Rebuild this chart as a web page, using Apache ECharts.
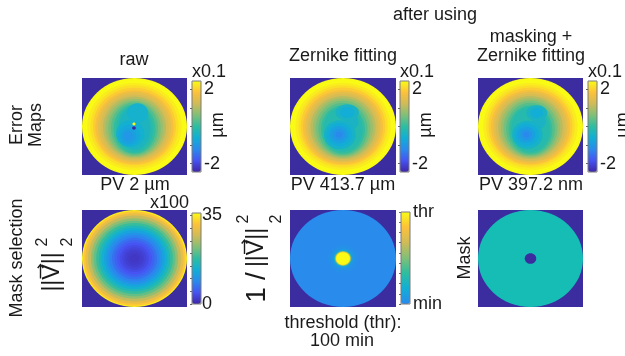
<!DOCTYPE html>
<html>
<head>
<meta charset="utf-8">
<script src="https://cdn.jsdelivr.net/npm/echarts@6/dist/echarts.min.js"></script>
<style>
html, body { margin: 0; padding: 0; background: #fff; }
#c { width: 625px; height: 356px; }
</style>
</head>
<body>
<div id="c"></div>
<script>
// Parula-style colour ramps
const parula = ['#3e26a8', '#4653f2', '#2a8aed', '#11aed6', '#2dbda0', '#80bf78', '#cfbb58', '#fdc13a', '#f9fb15'];
const parulaUpper = ['#2a8aed', '#11aed6', '#2dbda0', '#80bf78', '#cfbb58', '#fdc13a', '#f9fb15'];
const maskColors = ['#3b2ca0', '#16bdb4'];
const outsideColor = '#3b2ca0';

// Filled level sets, outermost first: [value, radiusX, radiusY, centreX, centreY]
// (radii and centres in normalised pupil units, -1..1)
const rawLevels = [
  [2.45, 1.0, 1.0, 0, 0],
  [2.3, 0.9, 0.9, 0, 0],
  [2.15, 0.84, 0.85, 0, 0],
  [1.95, 0.79, 0.8, 0, 0],
  [1.75, 0.745, 0.76, 0, -0.01],
  [1.5, 0.7, 0.72, 0, -0.01],
  [1.3, 0.65, 0.68, 0, -0.02],
  [1.05, 0.6, 0.64, 0, -0.02],
  [0.8, 0.55, 0.6, 0, -0.03],
  [0.55, 0.5, 0.57, 0, -0.04],
  [0.3, 0.45, 0.54, 0, -0.04],
  [0.05, 0.4, 0.51, 0, -0.05],
  [-0.15, 0.35, 0.48, 0, -0.05],
  [-0.35, 0.3, 0.44, 0, -0.04],
  [-0.5, 0.2, 0.2, 0.06, 0.28],
  [-0.55, 0.27, 0.28, -0.08, -0.15],
  [-0.7, 0.21, 0.22, -0.1, -0.18],
  [-0.85, 0.15, 0.16, -0.11, -0.2],
  [-1.0, 0.09, 0.1, -0.12, -0.2],
  [2.45, 0.03, 0.03, -0.01, 0.05],
  [-2.45, 0.035, 0.035, -0.01, -0.03]
];

const zernikeLevels = [
  [2.45, 1.0, 1.0, 0, 0],
  [2.3, 0.9, 0.9, 0, 0],
  [2.15, 0.845, 0.85, 0, 0],
  [1.95, 0.8, 0.805, 0, 0],
  [1.75, 0.755, 0.765, 0, -0.01],
  [1.5, 0.71, 0.725, 0, -0.01],
  [1.3, 0.665, 0.69, 0, -0.02],
  [1.05, 0.615, 0.65, 0, -0.02],
  [0.8, 0.565, 0.61, 0, -0.03],
  [0.55, 0.515, 0.575, 0, -0.04],
  [0.3, 0.465, 0.54, 0, -0.05],
  [0.05, 0.415, 0.5, 0, -0.06],
  [-0.15, 0.37, 0.46, 0, -0.06],
  [-0.4, 0.22, 0.17, 0.08, 0.29],
  [-0.4, 0.14, 0.16, 0.15, 0.1],
  [-0.45, 0.3, 0.3, -0.06, -0.17],
  [-0.6, 0.14, 0.11, 0.08, 0.29],
  [-0.65, 0.24, 0.24, -0.07, -0.17],
  [-0.85, 0.18, 0.18, -0.075, -0.17],
  [-1.05, 0.12, 0.12, -0.075, -0.17],
  [-1.25, 0.06, 0.06, -0.075, -0.17]
];

const maskedLevels = [
  [2.45, 1.0, 1.0, 0, 0],
  [2.3, 0.9, 0.9, 0, 0],
  [2.15, 0.845, 0.85, 0, 0],
  [1.95, 0.8, 0.805, 0, 0],
  [1.75, 0.755, 0.765, 0, -0.01],
  [1.5, 0.71, 0.725, 0, -0.01],
  [1.3, 0.665, 0.69, 0, -0.02],
  [1.05, 0.615, 0.65, 0, -0.02],
  [0.8, 0.565, 0.61, 0, -0.03],
  [0.55, 0.515, 0.575, 0, -0.04],
  [0.3, 0.465, 0.54, 0, -0.05],
  [0.05, 0.415, 0.5, 0, -0.06],
  [-0.15, 0.37, 0.46, 0, -0.06],
  [-0.4, 0.2, 0.16, 0.12, 0.28],
  [-0.4, 0.13, 0.15, 0.16, 0.1],
  [-0.45, 0.29, 0.29, -0.06, -0.17],
  [-0.6, 0.12, 0.1, 0.12, 0.28],
  [-0.65, 0.23, 0.23, -0.07, -0.17],
  [-0.85, 0.17, 0.17, -0.08, -0.17],
  [-1.05, 0.11, 0.11, -0.08, -0.17],
  [-1.25, 0.055, 0.055, -0.08, -0.17]
];

const gradLevels = [
  [35, 1.0, 1.0, 0, 0],
  [32, 0.975, 0.975, 0, 0],
  [29.5, 0.935, 0.935, 0, 0],
  [26.5, 0.885, 0.885, 0, 0],
  [23.5, 0.83, 0.83, 0, 0],
  [21, 0.78, 0.78, 0, 0],
  [18.5, 0.73, 0.73, 0, 0],
  [16, 0.68, 0.68, 0, 0],
  [14, 0.63, 0.63, 0, 0],
  [12, 0.58, 0.58, 0, 0],
  [10, 0.53, 0.53, 0, 0],
  [8.5, 0.48, 0.48, 0, 0],
  [7, 0.43, 0.43, 0, 0],
  [5.7, 0.38, 0.38, 0, 0],
  [4.6, 0.33, 0.33, 0, 0],
  [3.7, 0.28, 0.28, 0, 0],
  [3, 0.23, 0.23, 0, 0],
  [2.4, 0.18, 0.18, 0, 0],
  [2, 0.13, 0.13, 0, 0],
  [1.7, 0.08, 0.08, 0, 0]
];

const invLevels = [
  [1.5, 1.0, 1.0, 0, 0],
  [3, 0.3, 0.3, 0, 0],
  [5, 0.24, 0.24, 0, 0],
  [9, 0.2, 0.2, 0, 0],
  [20, 0.17, 0.17, 0, 0],
  [45, 0.155, 0.155, 0, 0],
  [75, 0.142, 0.142, 0, 0],
  [100, 0.13, 0.13, 0, 0]
];

const maskLevels = [
  [1, 1.0, 1.0, 0, 0],
  [0, 0.11, 0.11, 0, 0]
];

// Colour-bar ranges, tick labels and tick marks
const errRange = [-2.45, 2.45];
const errTickLabels = [-2, 2];
const errTickMarks = [-2, -1, 0, 1, 2];
const gradRange = [0, 36];
const gradTickLabels = [0, 35];
const gradTickMarks = [0, 5, 10, 15, 20, 25, 30, 35];
const invRange = [1, 100];
const invTickLabels = [1, 100];
const invTickNames = ['min', 'thr'];
const invTickMarks = [1, 12, 23, 34, 45, 56, 67, 78, 89, 100];

const FONT = '"Liberation Sans", Arial, sans-serif';
const INK = '#1a1a1a';

// Layout (pixels)
const panelBoxes = [
  [82, 78, 105, 97], [290, 78, 106, 97], [478, 78, 105, 97],
  [82, 210, 105, 97], [290, 210, 106, 97], [478, 210, 105, 97]
];
const barBoxes = [
  [192, 81, 9, 91], [400, 81, 9, 91], [588, 81, 9, 91],
  [192, 213, 9, 91], [401, 212, 9, 92]
];

const panelLevels = [rawLevels, zernikeLevels, maskedLevels, gradLevels, invLevels, maskLevels];

const grid = [], xAxis = [], yAxis = [], series = [];

panelBoxes.forEach((b, i) => {
  grid.push({ left: b[0], top: b[1], width: b[2], height: b[3], show: true,
    backgroundColor: outsideColor, borderWidth: 0 });
  xAxis.push({ gridIndex: i, type: 'value', min: -1, max: 1, show: false });
  yAxis.push({ gridIndex: i, type: 'value', min: -1, max: 1, show: false });
  series.push({
    type: 'custom', xAxisIndex: i, yAxisIndex: i, silent: true, animation: false,
    data: panelLevels[i].map(l => [l[3], l[4], l[1], l[2], l[0]]),
    renderItem: function (params, api) {
      const c = api.coord([api.value(0), api.value(1)]);
      const s = api.size([api.value(2), api.value(3)]);
      return {
        type: 'ellipse',
        shape: { cx: c[0], cy: c[1], rx: s[0], ry: s[1] },
        style: { fill: api.visual('color') }
      };
    }
  });
});

function barAxis(gi, range, labels, marks, fmt, margin) {
  return {
    gridIndex: gi, type: 'value', min: range[0], max: range[1], position: 'right', z: 10,
    axisLine: { show: false }, splitLine: { show: false },
    axisTick: { show: true, inside: true, length: 2, lineStyle: { color: '#666', width: 1 }, customValues: marks },
    axisLabel: { show: true, customValues: labels, formatter: fmt, margin: margin,
      color: INK, fontSize: 18, fontFamily: FONT }
  };
}

const barSpecs = [
  [errRange, errTickLabels, errTickMarks, v => String(v), 3],
  [errRange, errTickLabels, errTickMarks, v => String(v), 3],
  [errRange, errTickLabels, errTickMarks, v => String(v), 3],
  [gradRange, gradTickLabels, gradTickMarks, v => String(v), 1],
  [invRange, invTickLabels, invTickMarks, v => invTickNames[invTickLabels.indexOf(v)], 3]
];

barBoxes.forEach((b, k) => {
  const gi = panelBoxes.length + k;
  grid.push({ left: b[0], top: b[1], width: b[2], height: b[3], show: true, z: 10,
    backgroundColor: 'transparent', borderColor: '#7a7a7a', borderWidth: 1 });
  xAxis.push({ gridIndex: gi, type: 'value', min: 0, max: 1, show: false });
  const s = barSpecs[k];
  yAxis.push(barAxis(gi, s[0], s[1], s[2], s[3], s[4]));
});

function colourBar(si, range, colors, box) {
  return {
    type: 'continuous', seriesIndex: si, dimension: 4, min: range[0], max: range[1],
    inRange: { color: colors }, show: !!box, orient: 'vertical',
    left: box ? box[0] : 0, top: box ? box[1] : 0,
    itemWidth: box ? box[2] : 9, itemHeight: box ? box[3] : 90,
    padding: 0, calculable: false, hoverLink: false, text: null
  };
}

const visualMap = [
  colourBar(0, errRange, parula, barBoxes[0]),
  colourBar(1, errRange, parula, barBoxes[1]),
  colourBar(2, errRange, parula, barBoxes[2]),
  colourBar(3, gradRange, parula, barBoxes[3]),
  colourBar(4, invRange, parulaUpper, barBoxes[4]),
  colourBar(5, [0, 1], maskColors, null)
];

function label(text, x, y, opts) {
  opts = opts || {};
  return {
    type: 'text', x: x, y: y, rotation: opts.rot || 0, silent: true,
    style: {
      text: text, font: (opts.size || 18) + 'px ' + FONT, fill: INK,
      align: opts.align || 'center', verticalAlign: 'middle',
      textAlign: opts.align || 'center', textVerticalAlign: 'middle',
      lineHeight: opts.lh || undefined
    }
  };
}

// Small vector arrow (along +x in the local frame) used over the V symbol
function vecArrow(x0, x1, y) {
  return [
    { type: 'line', silent: true, shape: { x1: x0, y1: y, x2: x1, y2: y },
      style: { stroke: INK, lineWidth: 1.4 } },
    { type: 'polyline', silent: true,
      shape: { points: [[x1 - 3.5, y - 2.8], [x1, y], [x1 - 3.5, y + 2.8]] },
      style: { stroke: INK, lineWidth: 1.4, fill: null } }
  ];
}

const R90 = Math.PI / 2;

function normFormula(x, y, withInverse) {
  let kids = [];
  if (withInverse) {
    kids.push(label('1', -30, 0, { size: 28 }));
    kids.push(label('/', -11, 0, { size: 28 }));
    kids.push(label('||V||', 17.5, 0, { size: 23 }));
    kids = kids.concat(vecArrow(11, 25, -12.5));
    kids.push(label('2', 46, -13, { size: 16 }));
    kids.push(label('2', 46, 20, { size: 16 }));
  } else {
    kids.push(label('||V||', 0, 0, { size: 23 }));
    kids = kids.concat(vecArrow(-6.5, 7.5, -12.5));
    kids.push(label('2', 30, -10.5, { size: 16 }));
    kids.push(label('2', 30, 14.5, { size: 16 }));
  }
  return { type: 'group', x: x, y: y, rotation: R90, children: kids };
}

const graphic = [
  label('after using', 435, 15),
  label('raw', 134, 60),
  label('Zernike fitting', 343, 56),
  label('masking +', 531, 37),
  label('Zernike fitting', 531, 56),
  label('x0.1', 192, 72, { align: 'left' }),
  label('x0.1', 400, 72, { align: 'left' }),
  label('x0.1', 588, 72, { align: 'left' }),
  label('\u00b5m', 218, 125, { rot: R90 }),
  label('\u00b5m', 426, 125, { rot: R90 }),
  label('\u00b5m', 623, 125, { rot: R90 }),
  label('PV 2 \u00b5m', 135, 185),
  label('PV 413.7 \u00b5m', 343, 185),
  label('PV 397.2 nm', 531, 185),
  label('x100', 189, 203, { align: 'right' }),
  label('Error\nMaps', 27, 125, { rot: R90, lh: 19 }),
  label('Mask selection', 17, 258, { rot: R90 }),
  normFormula(53, 272, false),
  normFormula(257, 265, true),
  label('Mask', 465, 258, { rot: R90 }),
  label('threshold (thr):', 343, 323),
  label('100 min', 342, 341)
];

const chart = echarts.init(document.getElementById('c'), null, { renderer: 'canvas' });
chart.setOption({
  backgroundColor: '#ffffff',
  animation: false,
  grid: grid,
  xAxis: xAxis,
  yAxis: yAxis,
  visualMap: visualMap,
  series: series,
  graphic: { elements: graphic }
});
</script>
</body>
</html>
